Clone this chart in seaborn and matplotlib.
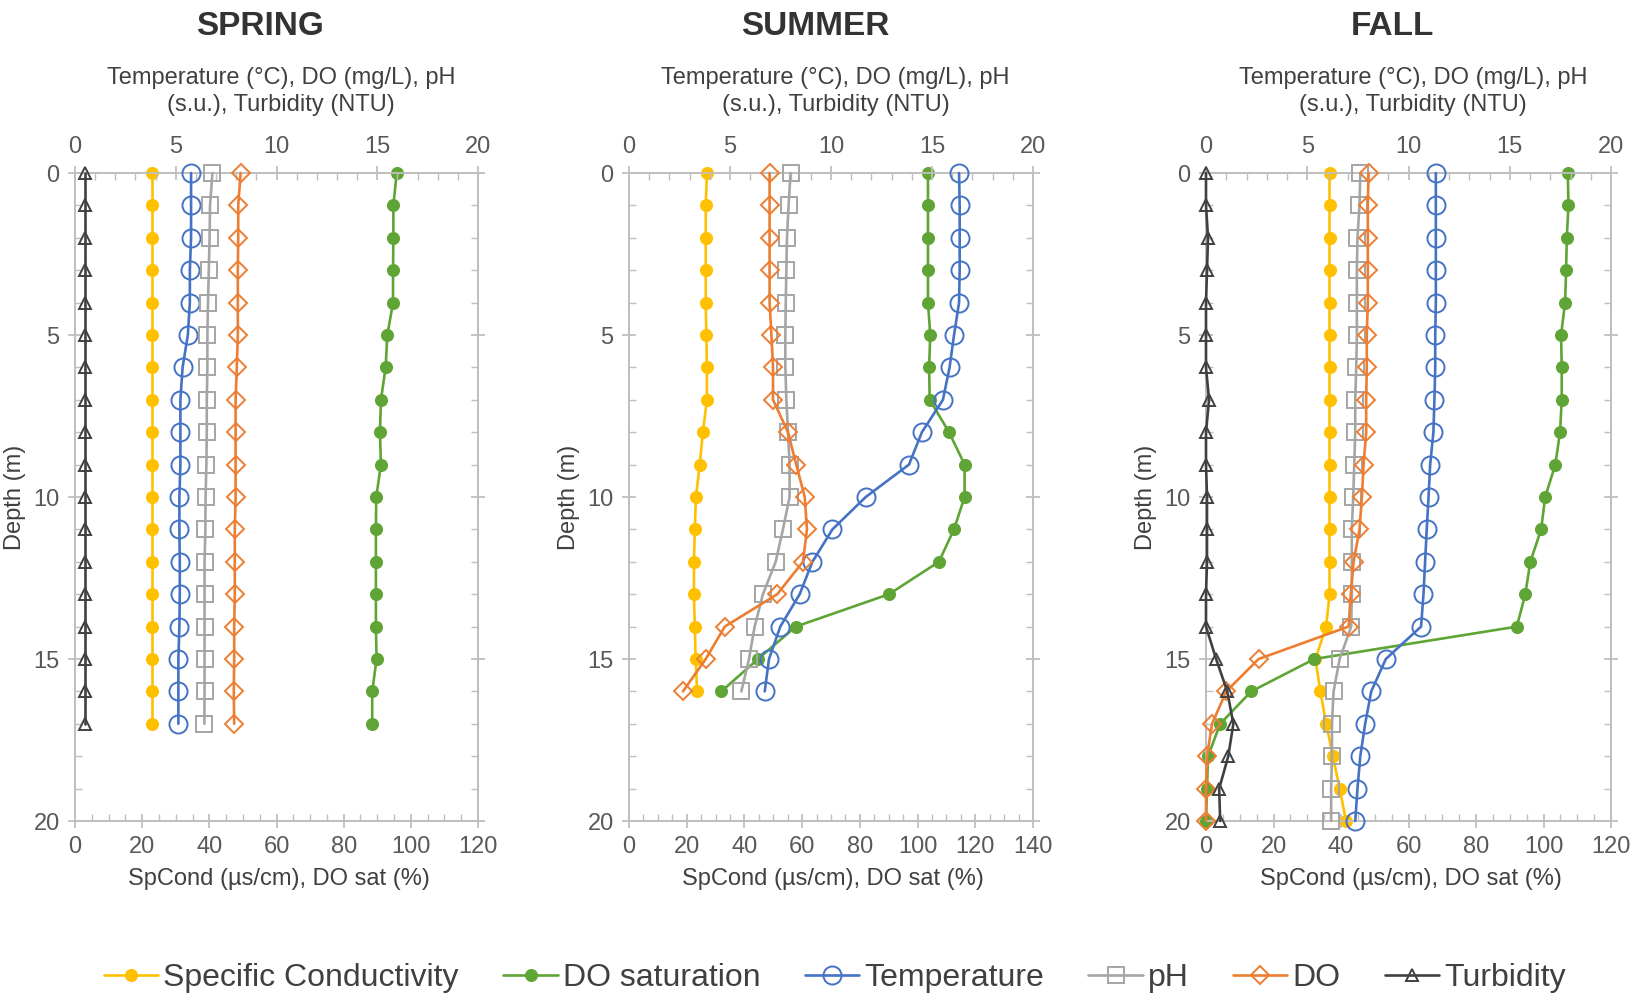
import numpy as np
import pandas as pd
import matplotlib
matplotlib.use("Agg")
import matplotlib.pyplot as plt
from matplotlib.ticker import MultipleLocator
import seaborn as sns

sns.set_theme(style="white")
plt.rcParams["font.family"] = ["Liberation Sans", "DejaVu Sans"]

# ---------------- data ----------------
seasons = ["SPRING", "SUMMER", "FALL"]

spring_depth = list(range(0, 18))
spring_spcond = [23.0] * 18
spring_dosat = [95.8, 94.8, 94.8, 94.7, 94.7, 93.0, 92.5, 91.1, 90.8, 91.1,
                89.7, 89.6, 89.6, 89.6, 89.6, 89.8, 88.5, 88.5]
spring_temp = [5.76, 5.76, 5.76, 5.70, 5.70, 5.60, 5.34, 5.23, 5.23, 5.23,
               5.18, 5.18, 5.20, 5.20, 5.18, 5.13, 5.13, 5.13]
spring_ph = [6.82, 6.70, 6.68, 6.64, 6.60, 6.57, 6.57, 6.54, 6.54, 6.52,
             6.48, 6.47, 6.43, 6.43, 6.43, 6.43, 6.43, 6.42]
spring_do = [8.22, 8.10, 8.10, 8.08, 8.08, 8.08, 8.03, 7.97, 7.97, 7.97,
             7.97, 7.93, 7.93, 7.93, 7.90, 7.90, 7.88, 7.90]
spring_turb = [0.5] * 18

summer_depth = list(range(0, 17))
summer_spcond = [27.0, 26.6, 26.6, 26.6, 26.6, 26.8, 27.0, 27.0, 25.6, 24.5,
                 23.2, 22.8, 22.5, 22.5, 22.8, 23.1, 23.6]
summer_dosat = [103.6, 103.6, 103.6, 103.6, 103.6, 104.4, 104.0, 104.2, 110.9, 116.3,
                116.3, 112.6, 107.4, 90.1, 57.8, 44.7, 32.0]
summer_temp = [16.34, 16.37, 16.37, 16.37, 16.34, 16.09, 15.87, 15.54, 14.50, 13.86,
               11.72, 10.07, 9.08, 8.45, 7.49, 6.93, 6.72]
summer_ph = [8.00, 7.90, 7.82, 7.79, 7.76, 7.74, 7.74, 7.79, 7.87, 7.95,
             7.95, 7.62, 7.26, 6.63, 6.22, 5.94, 5.56]
summer_do = [6.96, 6.96, 6.96, 6.96, 6.96, 7.05, 7.13, 7.13, 7.87, 8.28,
             8.70, 8.81, 8.61, 7.34, 4.74, 3.80, 2.67]
summer_turb = None  # not shown in summer panel

fall_depth = list(range(0, 21))
fall_spcond = [36.6] * 14 + [35.6, 32.4, 33.9, 35.6, 37.6, 39.6, 41.5]
fall_dosat = [107.2, 107.4, 106.9, 106.7, 106.4, 105.2, 105.4, 105.4, 104.9, 103.5,
              100.5, 99.3, 96.1, 94.6, 92.1, 32.1, 13.4, 4.2, 0.6, 0.3, 0.0]
fall_temp = [11.35, 11.35, 11.35, 11.35, 11.35, 11.32, 11.32, 11.28, 11.23, 11.07,
             10.99, 10.90, 10.82, 10.74, 10.62, 8.88, 8.16, 7.86, 7.62, 7.48, 7.37]
fall_ph = [7.62, 7.58, 7.48, 7.45, 7.45, 7.45, 7.42, 7.37, 7.37, 7.32,
           7.27, 7.20, 7.20, 7.20, 7.17, 6.60, 6.30, 6.22, 6.22, 6.18, 6.18]
fall_do = [8.03, 7.99, 7.99, 7.99, 7.99, 7.94, 7.94, 7.91, 7.91, 7.78,
           7.70, 7.58, 7.29, 7.15, 7.04, 2.60, 1.00, 0.30, 0.05, 0.0, 0.0]
fall_turb = [0.0, 0.0, 0.1, 0.05, 0.0, 0.0, 0.0, 0.15, 0.0, 0.0,
             0.05, 0.05, 0.05, 0.0, 0.0, 0.5, 1.05, 1.35, 1.1, 0.65, 0.7]

bottom_xmax = [120, 140, 120]

top_label = "Temperature (°C), DO (mg/L), pH\n(s.u.), Turbidity (NTU)"
bottom_label = "SpCond (µs/cm), DO sat (%)"
y_label = "Depth (m)"

season_data = {
    "SPRING": dict(depth=spring_depth, spcond=spring_spcond, dosat=spring_dosat,
                   temp=spring_temp, ph=spring_ph, do=spring_do, turb=spring_turb),
    "SUMMER": dict(depth=summer_depth, spcond=summer_spcond, dosat=summer_dosat,
                   temp=summer_temp, ph=summer_ph, do=summer_do, turb=summer_turb),
    "FALL": dict(depth=fall_depth, spcond=fall_spcond, dosat=fall_dosat,
                 temp=fall_temp, ph=fall_ph, do=fall_do, turb=fall_turb),
}

# ---------------- styles ----------------
styles = {
    "spcond": dict(label="Specific Conductivity", color="#FFC000", marker="o", ms=8,
                   mfc="#FFC000", mec="#FFC000", axis="bottom"),
    "dosat": dict(label="DO saturation", color="#5FA535", marker="o", ms=8,
                  mfc="#5FA535", mec="#5FA535", axis="bottom"),
    "temp": dict(label="Temperature", color="#4472C4", marker="o", ms=13,
                 mfc="none", mec="#4472C4", axis="top"),
    "ph": dict(label="pH", color="#A5A5A5", marker="s", ms=12,
               mfc="none", mec="#A5A5A5", axis="top"),
    "do": dict(label="DO", color="#ED7D31", marker="D", ms=9,
               mfc="none", mec="#ED7D31", axis="top"),
    "turb": dict(label="Turbidity", color="#404040", marker="^", ms=8,
                 mfc="none", mec="#404040", axis="top"),
}
order = ["spcond", "dosat", "temp", "ph", "do", "turb"]

SPINE = "#BFBFBF"
TICKTXT = "#595959"
LABTXT = "#404040"

fig = plt.figure(figsize=(16.37, 9.96), dpi=100)
W, H = 1637.0, 996.0
lefts = [75, 629, 1206]
widths = [403, 404, 405]
ax_top_px, ax_bot_px = 173, 821

handles_map = {}
for i, season in enumerate(seasons):
    d = season_data[season]
    ax = fig.add_axes([lefts[i] / W, 1 - ax_bot_px / H, widths[i] / W,
                       (ax_bot_px - ax_top_px) / H])
    ax2 = ax.twiny()
    for key in order:
        vals = d[key]
        if vals is None:
            continue
        st = styles[key]
        target = ax if st["axis"] == "bottom" else ax2
        df = pd.DataFrame({"value": vals, "depth": d["depth"]})
        sns.lineplot(data=df, x="value", y="depth", ax=target, orient="y",
                     sort=False, estimator=None, legend=False,
                     color=st["color"], linewidth=1.9, marker=st["marker"],
                     markersize=st["ms"], markerfacecolor=st["mfc"],
                     markeredgecolor=st["mec"], markeredgewidth=1.4,
                     clip_on=False, label=st["label"], zorder=3)
        handles_map[key] = target.get_lines()[-1]

    ax.set_xlim(0, bottom_xmax[i])
    ax2.set_xlim(0, 20)
    ax.set_ylim(20, 0)

    ax.xaxis.set_major_locator(MultipleLocator(20))
    ax.xaxis.set_minor_locator(MultipleLocator(5))
    ax2.xaxis.set_major_locator(MultipleLocator(5))
    ax2.xaxis.set_minor_locator(MultipleLocator(1))
    ax.yaxis.set_major_locator(MultipleLocator(5))
    ax.yaxis.set_minor_locator(MultipleLocator(1))

    for a in (ax, ax2):
        for sp in a.spines.values():
            sp.set_color(SPINE)
            sp.set_linewidth(1.3)
            sp.set_visible(True)
    ax.tick_params(axis="x", which="major", bottom=True, top=False, direction="inout",
                   length=10, width=1.3, color=SPINE, labelsize=17,
                   labelcolor=TICKTXT, pad=6)
    ax.tick_params(axis="x", which="minor", bottom=True, top=False, direction="in",
                   length=5, width=1.0, color=SPINE)
    ax2.tick_params(axis="x", which="major", top=True, bottom=False, direction="inout",
                    length=10, width=1.3, color=SPINE, labelsize=17,
                    labelcolor=TICKTXT, pad=6)
    ax2.tick_params(axis="x", which="minor", top=True, bottom=False, direction="in",
                    length=5, width=1.0, color=SPINE)
    ax.tick_params(axis="y", which="major", left=True, right=True, direction="inout",
                   length=10, width=1.3, color=SPINE, labelsize=17,
                   labelcolor=TICKTXT, pad=6)
    ax.tick_params(axis="y", which="minor", left=True, right=True, direction="in",
                   length=5, width=1.0, color=SPINE)
    ax.grid(False)
    ax2.grid(False)

    ax.set_xlabel(bottom_label, fontsize=17, color=LABTXT)
    ax.xaxis.set_label_coords(0.506, -0.0895)
    ax.xaxis.label.set_verticalalignment("center")
    ax2.set_xlabel(top_label, fontsize=17, color=LABTXT, linespacing=1.32)
    ax2.xaxis.set_label_coords(0.511, 1.126)
    ax2.xaxis.label.set_verticalalignment("center")
    ax.set_ylabel(y_label, fontsize=17, color=LABTXT)
    ax.yaxis.set_label_coords(-0.148, 0.5)
    ax.yaxis.label.set_verticalalignment("center")
    ax2.set_ylabel("")

    ax.text(0.46, 1.226, season, transform=ax.transAxes, ha="center", va="center",
            fontsize=24, fontweight="bold", color="#333333")

handles = [handles_map[k] for k in order]
labels = [styles[k]["label"] for k in order]
leg = fig.legend(handles, labels, loc="center", bbox_to_anchor=(0.51, 0.018),
                 ncol=6, frameon=False, fontsize=23, handlelength=1.7,
                 handletextpad=0.15, columnspacing=1.4, borderaxespad=0)
for t in leg.get_texts():
    t.set_color(LABTXT)

fig.savefig("out.png", dpi=100, facecolor="white")
